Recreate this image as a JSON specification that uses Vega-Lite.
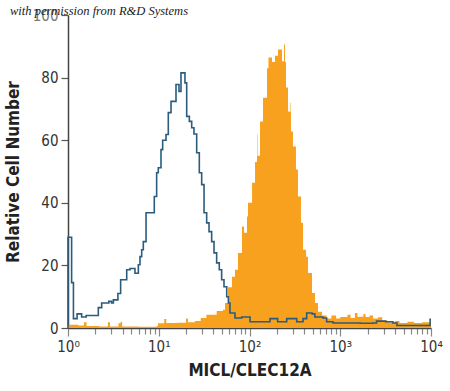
{
  "$schema": "https://vega.github.io/schema/vega-lite/v6.json",
  "autosize": {"type": "none"},
  "padding": {"left": 68, "top": 15, "right": 19, "bottom": 63},
  "width": 363,
  "height": 313,
  "background": "white",
  "config": {"view": {"stroke": null}},
  "title": {
    "text": "with permission from R&D Systems",
    "font": "Liberation Serif",
    "fontStyle": "italic",
    "fontWeight": "normal",
    "fontSize": 12.5,
    "color": "#1a1a1a",
    "anchor": "start",
    "frame": "group",
    "orient": "top",
    "baseline": "alphabetic",
    "offset": 0,
    "dx": -58,
    "dy": 19
  },
  "datasets": {
    "orange": [
      {"fluorescence": 1, "count": 1}, {"fluorescence": 1.3, "count": 0.8}, {"fluorescence": 1.5, "count": 1.8}, {"fluorescence": 1.6, "count": 0.6},
      {"fluorescence": 2.2, "count": 0.5}, {"fluorescence": 2.75, "count": 1.8}, {"fluorescence": 2.9, "count": 0.5}, {"fluorescence": 3.6, "count": 1.5},
      {"fluorescence": 3.8, "count": 2}, {"fluorescence": 3.95, "count": 0.5}, {"fluorescence": 6, "count": 0.4}, {"fluorescence": 9.5, "count": 0.6},
      {"fluorescence": 9.8, "count": 1.5}, {"fluorescence": 11.5, "count": 2.9}, {"fluorescence": 12.1, "count": 1.6}, {"fluorescence": 16, "count": 1.7},
      {"fluorescence": 20, "count": 3}, {"fluorescence": 21, "count": 1.8}, {"fluorescence": 25, "count": 2.2}, {"fluorescence": 29, "count": 3.2},
      {"fluorescence": 33.5, "count": 4.2}, {"fluorescence": 43.5, "count": 5.4}, {"fluorescence": 51, "count": 5.8}, {"fluorescence": 53.7, "count": 8},
      {"fluorescence": 58, "count": 13}, {"fluorescence": 64, "count": 16.4}, {"fluorescence": 69.2, "count": 18.6}, {"fluorescence": 74.6, "count": 24},
      {"fluorescence": 82.6, "count": 32.4}, {"fluorescence": 86.9, "count": 30.4}, {"fluorescence": 93.8, "count": 35.6}, {"fluorescence": 96.2, "count": 40},
      {"fluorescence": 106.7, "count": 46.4}, {"fluorescence": 115.1, "count": 53}, {"fluorescence": 121.1, "count": 61.8}, {"fluorescence": 122.5, "count": 55},
      {"fluorescence": 130.6, "count": 66}, {"fluorescence": 140.9, "count": 73.6}, {"fluorescence": 156, "count": 83}, {"fluorescence": 161.8, "count": 86.4},
      {"fluorescence": 177, "count": 85}, {"fluorescence": 191, "count": 87}, {"fluorescence": 206.1, "count": 89}, {"fluorescence": 228, "count": 85.2},
      {"fluorescence": 239.9, "count": 90.6}, {"fluorescence": 246, "count": 85}, {"fluorescence": 252.5, "count": 76.8}, {"fluorescence": 265.5, "count": 69.2},
      {"fluorescence": 279.3, "count": 72}, {"fluorescence": 283, "count": 69}, {"fluorescence": 286.4, "count": 62.8}, {"fluorescence": 301.3, "count": 58},
      {"fluorescence": 325.1, "count": 50.6}, {"fluorescence": 342, "count": 42}, {"fluorescence": 369, "count": 33.6}, {"fluorescence": 389, "count": 25},
      {"fluorescence": 419.8, "count": 22.8}, {"fluorescence": 441.6, "count": 17.6}, {"fluorescence": 488.7, "count": 11.2}, {"fluorescence": 527.2, "count": 8},
      {"fluorescence": 568.9, "count": 5.2}, {"fluorescence": 629.5, "count": 4}, {"fluorescence": 708, "count": 3}, {"fluorescence": 800, "count": 4},
      {"fluorescence": 900, "count": 3}, {"fluorescence": 1000, "count": 3.5}, {"fluorescence": 1200, "count": 4.2}, {"fluorescence": 1300, "count": 3.2},
      {"fluorescence": 1450, "count": 4.8}, {"fluorescence": 1550, "count": 3.6}, {"fluorescence": 1800, "count": 4.5}, {"fluorescence": 1900, "count": 3.5},
      {"fluorescence": 2100, "count": 4}, {"fluorescence": 2300, "count": 3}, {"fluorescence": 2600, "count": 3.4}, {"fluorescence": 2900, "count": 2.4},
      {"fluorescence": 3300, "count": 1.8}, {"fluorescence": 4000, "count": 2.2}, {"fluorescence": 4500, "count": 1.6}, {"fluorescence": 5500, "count": 2},
      {"fluorescence": 6500, "count": 1.6}, {"fluorescence": 8000, "count": 1.8}, {"fluorescence": 10000, "count": 1.8}
    ],
    "blue": [
      {"fluorescence": 1, "count": 0}, {"fluorescence": 1, "count": 29}, {"fluorescence": 1.096, "count": 14.5}, {"fluorescence": 1.148, "count": 3},
      {"fluorescence": 1.259, "count": 4.5}, {"fluorescence": 1.413, "count": 3.5}, {"fluorescence": 1.585, "count": 4}, {"fluorescence": 2.158, "count": 6.5},
      {"fluorescence": 2.35, "count": 8}, {"fluorescence": 2.818, "count": 8.5}, {"fluorescence": 3.02, "count": 8}, {"fluorescence": 3.162, "count": 9},
      {"fluorescence": 3.548, "count": 11}, {"fluorescence": 3.802, "count": 15.4}, {"fluorescence": 4.436, "count": 18.6}, {"fluorescence": 4.82, "count": 19},
      {"fluorescence": 5.47, "count": 17.5}, {"fluorescence": 5.957, "count": 20.2}, {"fluorescence": 6.21, "count": 22.8}, {"fluorescence": 6.486, "count": 25},
      {"fluorescence": 6.76, "count": 27.6}, {"fluorescence": 7.244, "count": 36.8}, {"fluorescence": 8.93, "count": 42}, {"fluorescence": 9.48, "count": 49.6},
      {"fluorescence": 9.886, "count": 51.2}, {"fluorescence": 10.59, "count": 57}, {"fluorescence": 11.04, "count": 60}, {"fluorescence": 12.02, "count": 61.8},
      {"fluorescence": 12.74, "count": 68.8}, {"fluorescence": 13.65, "count": 72.4}, {"fluorescence": 15.49, "count": 77.8}, {"fluorescence": 16.71, "count": 75.6},
      {"fluorescence": 17.58, "count": 81.5}, {"fluorescence": 19.45, "count": 78.3}, {"fluorescence": 20.32, "count": 67.6}, {"fluorescence": 21.73, "count": 66},
      {"fluorescence": 23.07, "count": 64}, {"fluorescence": 24.43, "count": 62}, {"fluorescence": 26.18, "count": 56}, {"fluorescence": 27.99, "count": 49.6},
      {"fluorescence": 29.72, "count": 45.8}, {"fluorescence": 31.55, "count": 36.8}, {"fluorescence": 33.73, "count": 33.6}, {"fluorescence": 35.81, "count": 30.8},
      {"fluorescence": 38.28, "count": 27.6}, {"fluorescence": 40.64, "count": 24}, {"fluorescence": 43.45, "count": 20.8}, {"fluorescence": 46.45, "count": 18.6},
      {"fluorescence": 49.32, "count": 15.4}, {"fluorescence": 52.36, "count": 13.2}, {"fluorescence": 56.1, "count": 10}, {"fluorescence": 58.48, "count": 8},
      {"fluorescence": 60.95, "count": 4.8}, {"fluorescence": 69.18, "count": 3.2}, {"fluorescence": 82.04, "count": 3.5}, {"fluorescence": 101.4, "count": 2},
      {"fluorescence": 168.3, "count": 3}, {"fluorescence": 204.2, "count": 2}, {"fluorescence": 257, "count": 3}, {"fluorescence": 331.1, "count": 2},
      {"fluorescence": 389, "count": 3}, {"fluorescence": 426.6, "count": 4.8}, {"fluorescence": 489.8, "count": 4.5}, {"fluorescence": 524.8, "count": 3.5},
      {"fluorescence": 645.7, "count": 3.2}, {"fluorescence": 707.9, "count": 2}, {"fluorescence": 831.8, "count": 1.6}, {"fluorescence": 1660, "count": 1.5},
      {"fluorescence": 2291, "count": 1.6}, {"fluorescence": 2512, "count": 2.2}, {"fluorescence": 3162, "count": 2}, {"fluorescence": 3802, "count": 1.6},
      {"fluorescence": 4217, "count": 0.8}, {"fluorescence": 9700, "count": 0.8}, {"fluorescence": 9780, "count": 2.8}, {"fluorescence": 10000, "count": 2.8}
    ]
  },
  "encoding": {
    "x": {
      "field": "fluorescence",
      "type": "quantitative",
      "scale": {"type": "log", "domain": [1, 10000], "nice": false},
      "axis": {
        "title": "MICL/CLEC12A",
        "titleFont": "Liberation Sans Narrow, DejaVu Sans Condensed",
        "titleFontSize": 17,
        "titleFontWeight": "bold",
        "titleColor": "#222222",
        "titlePadding": 8,
        "values": [1, 2, 3, 4, 5, 6, 7, 8, 9, 10, 20, 30, 40, 50, 60, 70, 80, 90, 100, 200, 300, 400, 500, 600, 700, 800, 900, 1000, 2000, 3000, 4000, 5000, 6000, 7000, 8000, 9000, 10000],
        "labelExpr": "datum.value == 1 ? '10⁰' : datum.value == 10 ? '10¹' : datum.value == 100 ? '10²' : datum.value == 1000 ? '10³' : datum.value == 10000 ? '10⁴' : ''",
        "labelFont": "Liberation Sans Narrow, DejaVu Sans Condensed",
        "labelFontSize": 15,
        "labelColor": "#333333",
        "labelPadding": 3,
        "labelOverlap": false,
        "labelFlush": false,
        "tickSize": {"condition": {"test": "datum.value == 1 || datum.value == 10 || datum.value == 100 || datum.value == 1000 || datum.value == 10000", "value": 8}, "value": 6},
        "tickColor": "#888888",
        "tickWidth": 1.2,
        "domainColor": "#444444",
        "domainWidth": 1.5,
        "grid": false
      }
    },
    "y": {
      "field": "count",
      "type": "quantitative",
      "scale": {"domain": [0, 100], "nice": false},
      "axis": {
        "title": "Relative Cell Number",
        "titleFont": "Liberation Sans Narrow, DejaVu Sans Condensed",
        "titleFontSize": 17,
        "titleFontWeight": "bold",
        "titleColor": "#222222",
        "titlePadding": 10,
        "values": [0, 20, 40, 60, 80, 100],
        "labelFont": "Liberation Sans Narrow, DejaVu Sans Condensed",
        "labelFontSize": 15,
        "labelColor": {"condition": {"test": "datum.value == 100", "value": "#7a7a7a"}, "value": "#333333"},
        "labelPadding": 3,
        "tickSize": 7,
        "tickColor": "#555555",
        "tickWidth": 1.2,
        "domainColor": "#444444",
        "domainWidth": 1.5,
        "grid": false
      }
    }
  },
  "layer": [
    {
      "data": {"name": "orange"},
      "mark": {"type": "area", "interpolate": "step-after", "color": "#F7A11E", "opacity": 1}
    },
    {
      "data": {"name": "blue"},
      "mark": {"type": "line", "interpolate": "step-after", "color": "#2B5C7E", "strokeWidth": 1.6}
    }
  ]
}
